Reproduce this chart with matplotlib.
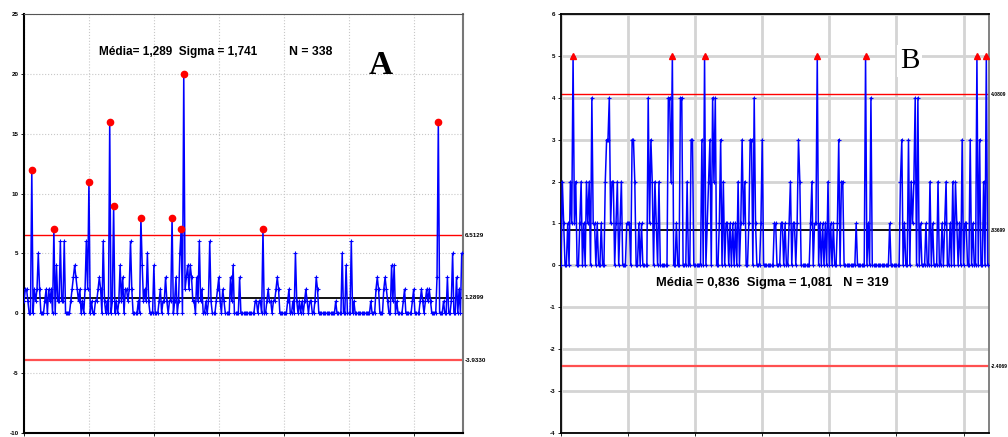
import numpy as np
import matplotlib
matplotlib.use("Agg")
import matplotlib.pyplot as plt

plt.rcParams['font.family'] = ['Liberation Sans', 'DejaVu Sans']
plt.rcParams['axes.unicode_minus'] = False

# Panel A: 338 samples
valuesA = [
    1, 2, 2, 1, 0, 0, 12, 0, 2, 1,
    2, 5, 2, 0, 0, 0, 1, 2, 0, 2,
    1, 2, 0, 7, 0, 4, 1, 1, 6, 1,
    1, 6, 0, 0, 0, 0, 1, 2, 3, 4,
    3, 2, 1, 2, 0, 1, 0, 2, 6, 2,
    11, 0, 1, 0, 0, 1, 1, 2, 3, 2,
    0, 6, 1, 0, 1, 0, 16, 0, 1, 9,
    0, 1, 0, 1, 4, 1, 3, 0, 2, 2,
    1, 2, 6, 2, 0, 0, 0, 0, 1, 0,
    8, 4, 1, 2, 1, 5, 1, 0, 0, 0,
    4, 0, 0, 0, 1, 2, 0, 1, 1, 3,
    1, 0, 1, 1, 8, 0, 1, 3, 0, 1,
    5, 7, 0, 20, 2, 3, 4, 2, 4, 3,
    1, 1, 0, 3, 1, 6, 1, 2, 0, 0,
    1, 0, 1, 6, 1, 0, 0, 0, 1, 2,
    3, 1, 0, 2, 1, 0, 0, 0, 0, 3,
    1, 4, 0, 0, 0, 0, 3, 0, 0, 0,
    0, 0, 0, 0, 0, 0, 0, 0, 1, 1,
    0, 1, 1, 0, 7, 0, 0, 1, 2, 1,
    1, 0, 1, 1, 2, 3, 2, 0, 0, 0,
    0, 0, 0, 1, 2, 0, 0, 1, 0, 5,
    1, 0, 1, 0, 1, 0, 1, 2, 1, 0,
    1, 1, 0, 0, 1, 3, 2, 0, 0, 0,
    0, 0, 0, 0, 0, 0, 0, 0, 0, 0,
    1, 0, 0, 0, 0, 5, 0, 0, 4, 0,
    0, 0, 6, 0, 1, 0, 0, 0, 0, 0,
    0, 0, 0, 0, 0, 0, 0, 1, 0, 0,
    0, 2, 3, 2, 0, 0, 0, 2, 3, 2,
    1, 0, 0, 4, 1, 4, 0, 1, 0, 0,
    0, 0, 1, 2, 0, 0, 0, 0, 0, 1,
    2, 0, 0, 0, 0, 1, 2, 1, 0, 1,
    2, 1, 2, 1, 0, 0, 0, 0, 3, 16,
    0, 0, 0, 1, 0, 0, 3, 0, 0, 1,
    5, 0, 0, 3, 0, 2, 0, 5,
]
limitsA = [6.5129, 1.2899, -3.9330]
labelsA = ["6.5129", "1.2899", "-3.9330"]

# Panel B: 319 samples
valuesB = [
    0, 2, 1, 0, 0, 1, 0, 2, 1, 5,
    1, 2, 0, 0, 1, 2, 0, 1, 0, 2,
    1, 2, 0, 4, 1, 1, 0, 1, 0, 0,
    1, 0, 0, 2, 3, 3, 4, 1, 2, 2,
    0, 1, 2, 0, 1, 2, 0, 0, 0, 1,
    1, 1, 0, 3, 3, 2, 0, 0, 1, 0,
    1, 0, 0, 0, 0, 4, 1, 3, 2, 0,
    2, 1, 0, 2, 0, 0, 0, 0, 0, 0,
    4, 4, 2, 5, 0, 0, 1, 0, 0, 4,
    4, 0, 0, 0, 2, 0, 0, 3, 3, 0,
    0, 0, 0, 0, 0, 3, 0, 5, 0, 1,
    2, 3, 0, 4, 2, 4, 0, 0, 1, 3,
    0, 2, 0, 1, 1, 0, 1, 0, 1, 0,
    1, 0, 2, 0, 1, 3, 1, 2, 0, 0,
    1, 3, 3, 0, 4, 1, 0, 0, 0, 1,
    3, 0, 0, 0, 0, 0, 0, 0, 0, 1,
    1, 0, 0, 0, 1, 1, 0, 1, 0, 0,
    1, 2, 0, 1, 1, 0, 1, 3, 2, 0,
    0, 0, 0, 0, 0, 0, 1, 2, 0, 1,
    1, 5, 0, 1, 0, 1, 0, 1, 0, 2,
    0, 1, 0, 1, 0, 0, 1, 3, 0, 2,
    2, 0, 0, 0, 0, 0, 0, 0, 0, 0,
    1, 0, 0, 0, 0, 0, 0, 5, 0, 1,
    0, 4, 0, 0, 0, 0, 0, 0, 0, 0,
    0, 0, 0, 0, 0, 1, 0, 0, 0, 0,
    0, 0, 0, 2, 3, 0, 1, 0, 0, 3,
    0, 2, 1, 2, 4, 0, 4, 0, 1, 0,
    0, 0, 1, 0, 0, 2, 0, 1, 0, 0,
    0, 2, 0, 0, 1, 0, 1, 2, 0, 0,
    1, 0, 2, 0, 2, 1, 0, 1, 0, 3,
    0, 1, 1, 0, 0, 3, 0, 1, 0, 0,
    5, 0, 3, 0, 0, 2, 0, 5, 0,
]
limitsB = [4.0809, 0.83699, -2.4069]
labelsB = ["4.0809", ".83699", "-2.4069"]

fig = plt.figure(figsize=(10.08, 4.37), dpi=100)
axA = fig.add_axes([24/1008, 4/437, 439/1008, 419/437])
axB = fig.add_axes([561/1008, 4/437, 428/1008, 419/437])


def draw_panel(ax, vals, limits, labels, outlier_marker, grid_style, lab_size):
    vals = np.array(vals)
    n = len(vals)
    x = np.arange(n)
    ucl, mean, lcl = limits
    ax.plot(x, vals, color='blue', lw=1.1, marker='+', ms=3, mew=0.8, zorder=3)
    out = vals > ucl
    ax.plot(x[out], vals[out], ls='none', marker=outlier_marker, color='red',
            ms=4.5, zorder=4)
    ax.axhline(ucl, color='red', lw=1.0, zorder=2)
    ax.axhline(mean, color='black', lw=1.3, zorder=2)
    ax.axhline(lcl, color='#ff5050', lw=1.6, zorder=2)
    ax.set_xlim(0, n)
    ax.set_xticks(np.arange(0, n + 1, 50))
    ax.set_xticklabels([])
    ax.tick_params(axis='both', length=2, width=0.6, labelsize=4.5, pad=2)
    if grid_style == 'dotted':
        ax.grid(True, color='#c8c8c8', ls=':', lw=0.8, zorder=0)
    else:
        ax.grid(True, color='#d4d4d4', ls='-', lw=2.0, zorder=0)
    ax.set_axisbelow(True)
    for y, lab in zip(limits, labels):
        ax.text(1.004, y, lab, transform=ax.get_yaxis_transform(), fontsize=lab_size,
                fontweight='bold', va='center', ha='left', clip_on=False)


draw_panel(axA, valuesA, limitsA, labelsA, 'o', 'dotted', 4.5)
axA.set_ylim(-10, 25)
axA.set_yticks(np.arange(-10, 26, 5))
for lab in axA.get_yticklabels():
    lab.set_fontweight('bold')
axA.spines['left'].set_linewidth(1.5)
axA.spines['bottom'].set_linewidth(1.5)
axA.spines['top'].set_color('#555555')
axA.spines['right'].set_color('#777777')
axA.spines['right'].set_linewidth(1.5)
axA.text(58, 21.8, "Média= 1,289  Sigma = 1,741", fontsize=8.5, fontweight='bold',
         va='center', ha='left')
axA.text(204, 21.8, "N = 338", fontsize=8.8, fontweight='bold', va='center', ha='left')
axA.text(275, 20.7, "A", fontsize=24, fontweight='bold', family='Liberation Serif',
         va='center', ha='center')

draw_panel(axB, valuesB, limitsB, labelsB, '^', 'solid', 3.6)
axB.set_ylim(-4, 6)
axB.set_yticks(np.arange(-4, 7, 1))
for lab in axB.get_yticklabels():
    lab.set_fontweight('bold')
axB.spines['left'].set_linewidth(1.3)
axB.spines['bottom'].set_linewidth(1.3)
axB.spines['top'].set_linewidth(1.3)
axB.spines['right'].set_color('#777777')
axB.spines['right'].set_linewidth(1.3)
axB.text(71, -0.42, "Média = 0,836  Sigma = 1,081   N = 319", fontsize=9.3,
         fontweight='bold', va='center', ha='left')
axB.text(260, 4.88, "B", fontsize=21, family='Liberation Serif', va='center',
         ha='center', zorder=5,
         bbox=dict(facecolor='white', edgecolor='none', pad=2))

fig.savefig('out.png', dpi=100)
